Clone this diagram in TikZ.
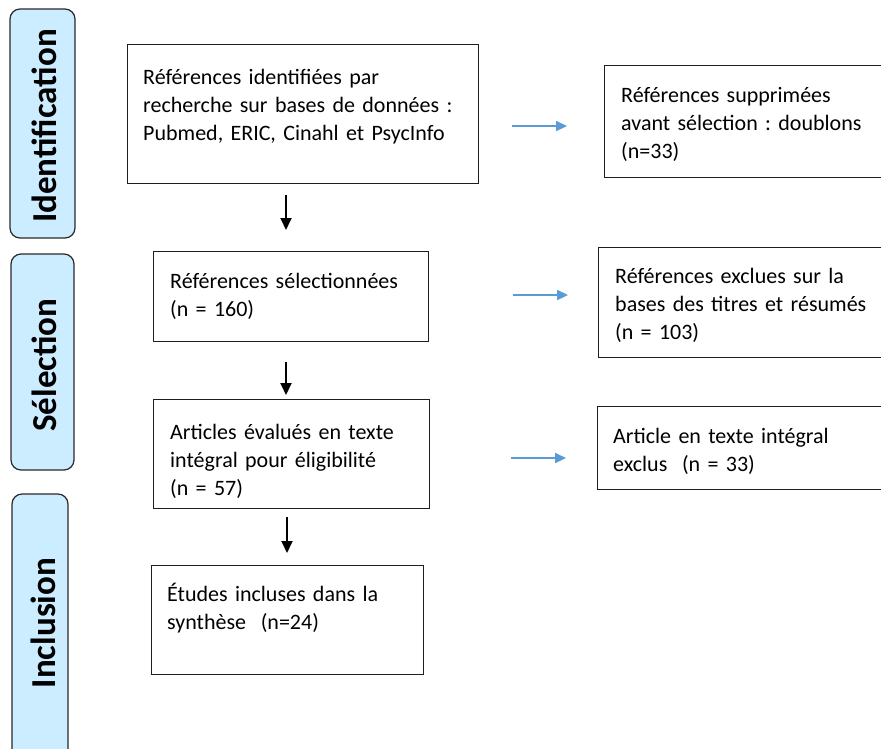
\documentclass[tikz,border=0pt]{standalone}
\usepackage{fontspec}
\setmainfont{Carlito}
\usetikzlibrary{arrows.meta}
\frenchspacing
\definecolor{sidefill}{RGB}{204,236,255}
\definecolor{sideline}{RGB}{40,40,40}
\definecolor{arrowblue}{RGB}{91,155,213}
\definecolor{boxline}{RGB}{30,30,30}
\tikzset{
  flowbox/.style={draw=boxline, line width=1.3pt, fill=white, rectangle, inner sep=0pt, anchor=north west},
  boxtext/.style={inner sep=0pt, anchor=base west, text width=320pt, align=left,
    font=\fontsize{22}{28.3}\selectfont\frenchspacing},
  sidebox/.style={draw=sideline, fill=sidefill, line width=1.2pt, rounded corners=10pt},
  sidelabel/.style={inner sep=0pt, rotate=90, anchor=base, font=\fontsize{35}{40}\selectfont\bfseries},
  downarrow/.style={draw=black, line width=1.8pt, -{Triangle[length=12pt,width=11pt]}},
  sidearrow/.style={draw=arrowblue, line width=2.2pt, -{Triangle[length=11pt,width=10pt]}}
}
\begin{document}
\begin{tikzpicture}[x=1pt,y=-1pt]
\useasboundingbox (0,0) rectangle (881,748);
\begin{scope}
\clip (0,0) rectangle (881,748);
% side phase boxes
\draw[sidebox] (10,9) rectangle (75,238);
\node[sidelabel] (lid) at (56,126) {Identification};
\draw[sidebox] (11,254) rectangle (74,470);
\node[sidelabel] (lsel) at (56,365) {Sélection};
\draw[sidebox] (12,494) rectangle (68,780);
\node[sidelabel] (linc) at (55,623) {Inclusion};

% main column
\node[flowbox, minimum width=351pt, minimum height=139pt] (b1) at (127,44) {};
\node[boxtext] (t1) at (143,84) {Références identifiées par\\recherche sur bases de données :\\Pubmed, ERIC, Cinahl et PsycInfo};
\node[flowbox, minimum width=275pt, minimum height=90pt] (b2) at (153,251) {};
\node[boxtext] (t2) at (170,288) {Références sélectionnées\\(n = 160)};
\node[flowbox, minimum width=276pt, minimum height=109pt] (b3) at (153,399) {};
\node[boxtext] (t3) at (170,439) {Articles évalués en texte\\intégral pour éligibilité\\(n = 57)};
\node[flowbox, minimum width=272pt, minimum height=109pt] (b4) at (151,565) {};
\node[boxtext] (t4) at (167,601) {Études incluses dans la\\synthèse\ \ (n=24)};

% right column
\node[flowbox, minimum width=320pt, minimum height=112pt] (r1) at (604,65) {};
\node[boxtext] (u1) at (621,102) {Références supprimées\\avant sélection : doublons\\(n=33)};
\node[flowbox, minimum width=320pt, minimum height=110pt] (r2) at (598,247) {};
\node[boxtext] (u2) at (615,283) {Références exclues sur la\\bases des titres et résumés\\(n = 103)};
\node[flowbox, minimum width=320pt, minimum height=83pt] (r3) at (597,406) {};
\node[boxtext] (u3) at (613,443) {Article en texte intégral\\exclus\ \ (n = 33)};

% connectors
\coordinate (d1s) at (286,195); \coordinate (d1e) at (286,230);
\coordinate (d2s) at (286,362); \coordinate (d2e) at (286,395);
\coordinate (d3s) at (287,517); \coordinate (d3e) at (287,553);
\draw[downarrow] (d1s) -- (d1e);
\draw[downarrow] (d2s) -- (d2e);
\draw[downarrow] (d3s) -- (d3e);
\coordinate (s1s) at (512,126); \coordinate (s1e) at (567,126);
\coordinate (s2s) at (513,295); \coordinate (s2e) at (568,295);
\coordinate (s3s) at (511,458); \coordinate (s3e) at (566,458);
\draw[sidearrow] (s1s) -- (s1e);
\draw[sidearrow] (s2s) -- (s2e);
\draw[sidearrow] (s3s) -- (s3e);
\end{scope}
\end{tikzpicture}
\end{document}
